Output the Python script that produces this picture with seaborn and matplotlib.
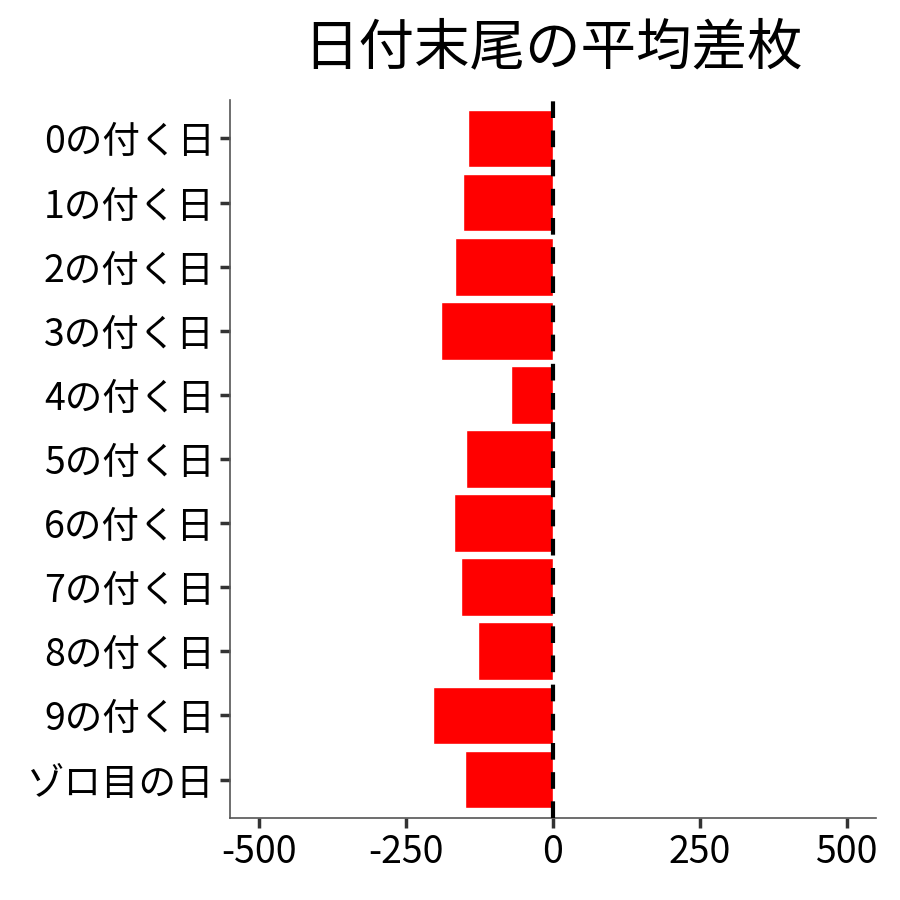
import pandas as pd
import seaborn as sns
from matplotlib import pyplot as plt

# 日付末尾ごとの平均差枚
categories = ['0の付く日', '1の付く日', '2の付く日', '3の付く日', '4の付く日',
              '5の付く日', '6の付く日', '7の付く日', '8の付く日', '9の付く日',
              'ゾロ目の日']
values = [-144, -154, -167, -191, -72, -148, -169, -156, -128, -205, -150]
x_ticks = [-500, -250, 0, 250, 500]

df = pd.DataFrame({'day': categories, 'diff': values})

sns.set_style('white')
plt.rcParams['font.family'] = ['Noto Sans CJK JP', 'DejaVu Sans']

fig = plt.figure(figsize=(9, 9), dpi=100)
ax = fig.add_axes([0.2556, 0.0911, 0.7177, 0.7978])

sns.barplot(data=df, x='diff', y='day', orient='h', color='#ff0000',
            saturation=1, width=0.9, order=categories, ax=ax)
ax.axvline(0, color='black', linestyle=(0, (4, 3)), linewidth=3, zorder=5)

ax.set_xlim(-550, 550)
ax.set_ylim(len(categories) - 0.4, -0.6)
ax.set_xticks(x_ticks)
ax.set_xticklabels([str(t) for t in x_ticks])
ax.set_xlabel('')
ax.set_ylabel('')

for s in ['top', 'right']:
    ax.spines[s].set_visible(False)
for s in ['left', 'bottom']:
    ax.spines[s].set_color('#555555')
    ax.spines[s].set_linewidth(1.2)
ax.tick_params(axis='both', which='major', length=7, width=2.5, color='#333333',
               labelsize=27, labelcolor='black', direction='out', pad=4,
               bottom=True, left=True)

fig.suptitle('日付末尾の平均差枚', fontsize=40, color='black', x=0.614, y=0.978)

plt.savefig('out.png', dpi=100)
